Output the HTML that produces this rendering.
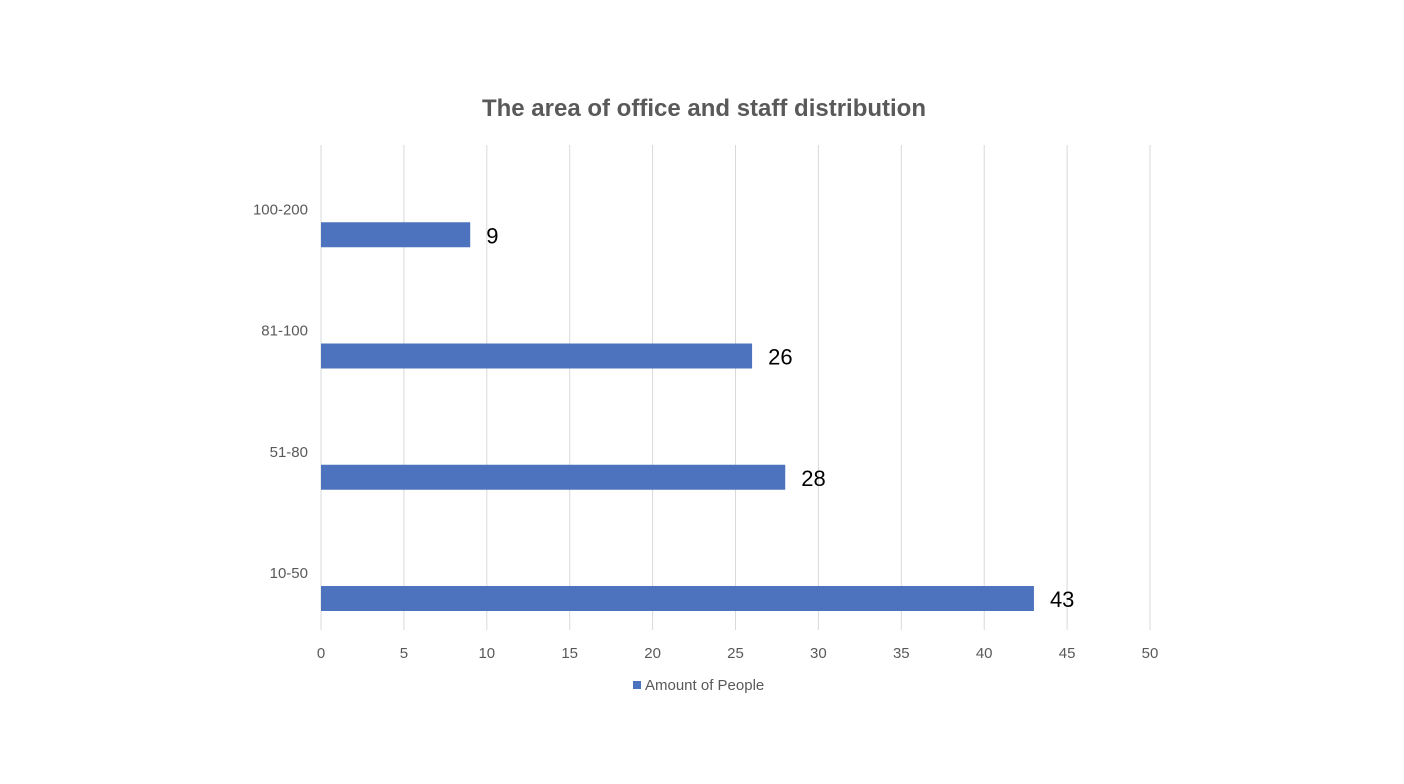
<!DOCTYPE html>
<html><head><meta charset="utf-8"><style>
html,body{margin:0;padding:0;background:#fff;}
svg{display:block;font-family:"Liberation Sans","DejaVu Sans",sans-serif;}
</style></head><body>
<svg id="chart" width="1404" height="784">
<text x="704" y="116" text-anchor="middle" font-size="24" font-weight="bold" fill="#595959">The area of office and staff distribution</text>
<g id="grid"></g><g id="bars"></g><g id="labels"></g>
<g>
<rect x="633" y="681" width="8" height="8" fill="#4e73be"></rect>
<text x="645" y="690" font-size="15" fill="#595959">Amount of People</text>
</g>
</svg>
<script>
const categories=["10-50","51-80","81-100","100-200"];
const values=[43,28,26,9];
const ticks=[0,5,10,15,20,25,30,35,40,45,50];
const ns="http://www.w3.org/2000/svg";
const x0=321,x1=1150,yTop=145,yBot=630,xMax=50;
const xs=v=>x0+(x1-x0)*v/xMax;
const band=(yBot-yTop)/categories.length;
const svg=document.getElementById('chart');
const grid=document.getElementById('grid'),bars=document.getElementById('bars'),labels=document.getElementById('labels');
function mk(tag,attrs,parent){const e=document.createElementNS(ns,tag);for(const k in attrs)e.setAttribute(k,attrs[k]);parent.appendChild(e);return e;}
ticks.forEach(t=>{
  const l=mk('line',{x1:xs(t),x2:xs(t),y1:yTop,y2:yBot,stroke:'#d9d9d9','stroke-width':1},grid);
  
  
  const tx=mk('text',{x:xs(t),y:yBot+28,'text-anchor':'middle','font-size':15,fill:'#595959'},labels);
  tx.textContent=t;
  
  
});
categories.forEach((c,i)=>{
  const bandBottom=yBot-i*band;
  const by=bandBottom-44;
  const r=mk('rect',{x:x0,y:by,width:xs(values[i])-x0,height:25,fill:'#4e73be'},bars);
  
  
  const cl=mk('text',{x:308,y:by-8,'text-anchor':'end','font-size':15,fill:'#595959'},labels);
  cl.textContent=c;
  
  
  const vl=mk('text',{x:xs(values[i])+16,y:by+21,'font-size':22,fill:'#000'},labels);
  vl.textContent=values[i];
  
  
});
</script>
</body></html>
